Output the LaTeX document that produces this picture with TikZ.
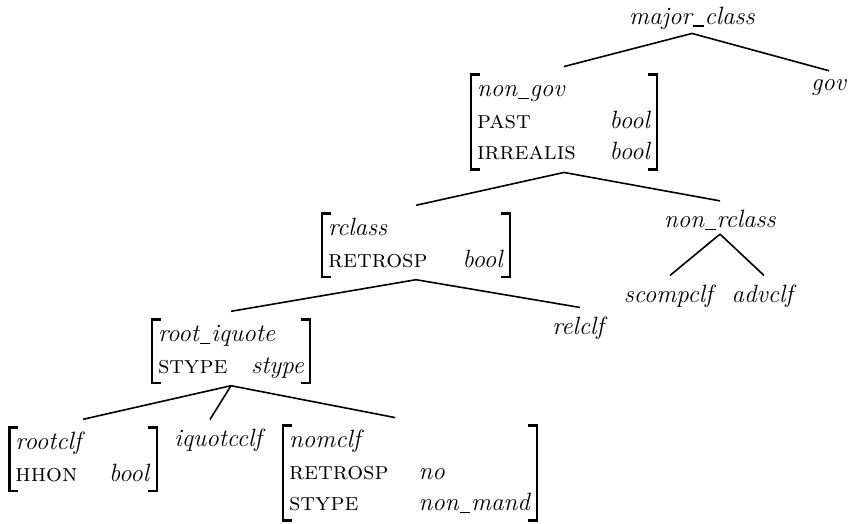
\documentclass[tikz,border=0pt]{standalone}
\usepackage{fontspec}
\usetikzlibrary{calc}
\newcommand{\ty}[1]{\textit{#1}}
\newcommand{\ft}[1]{\textsc{#1}}
\newcommand{\us}{\kern0.04em\rule[-0.1em]{0.42em}{0.055em}\kern0.04em}
\newcommand{\avmtwo}[4]{\begin{tabular*}{#1}{@{\extracolsep{\fill}}lr@{}}\multicolumn{2}{@{}l@{}}{#2}\\ #3 & #4\end{tabular*}}
\tikzset{
  every node/.style={font=\fontsize{25}{31.5}\selectfont, inner sep=0pt},
  lbl/.style={inner sep=1pt},
  avm/.style={inner xsep=6pt, inner ysep=0pt},
  branch/.style={line width=1.6pt},
  brk/.style={line width=2.4pt, line cap=butt}
}
\newcommand{\avmbrackets}[1]{%
  \draw[brk] ([xshift=9pt]#1.north west) -- (#1.north west) -- (#1.south west) -- ([xshift=9pt]#1.south west);
  \draw[brk] ([xshift=-9pt]#1.north east) -- (#1.north east) -- (#1.south east) -- ([xshift=-9pt]#1.south east);
}
\newcommand{\branchto}[3][0pt]{\draw[branch] ([yshift=-3pt]#2.south) -- ([xshift=#1,yshift=8pt]#3.north);}
\begin{document}
\begin{tikzpicture}[x=1pt,y=-1pt]
\useasboundingbox (0,0) rectangle (853,523);
\node[lbl] (major) at (692,18) {\ty{major\us class}};
\node[lbl] (gov) at (829,88) {\ty{gov}};
\node[avm] (nongov) at (564,122) {\begin{tabular*}{174pt}{@{\extracolsep{\fill}}lr@{}}\multicolumn{2}{@{}l@{}}{\ty{non\us gov}}\\ \ft{past} & \ty{bool}\\ \ft{irrealis} & \ty{bool}\end{tabular*}};
\node[avm] (rclass) at (416,245) {\avmtwo{176pt}{\ty{rclass}}{\ft{retrosp}}{\ty{bool}}};
\node[lbl] (nonrclass) at (720,220) {\ty{non\us rclass}};
\node[lbl] (scomp) at (670,296) {\ty{scompclf}};
\node[lbl] (adv) at (764,296) {\ty{advclf}};
\node[avm] (rootiq) at (231,351) {\avmtwo{146pt}{\ty{root\us iquote}}{\ft{stype}}{\ty{stype}}};
\node[lbl] (relclf) at (580,328) {\ty{relclf}};
\node[avm] (rootclf) at (83,459) {\avmtwo{135pt}{\ty{rootclf}}{\ft{hhon}}{\ty{bool}}};
\node[lbl] (iquot) at (220,440) {\ty{iquotcclf}};
\node[avm] (nomclf) at (410,473) {\begin{tabular*}{242pt}{@{\extracolsep{\fill}}ll@{}}\multicolumn{2}{@{}l@{}}{\ty{nomclf}}\\ \ft{retrosp} & \ty{no}\\ \ft{stype} & \ty{non\us mand}\end{tabular*}};
\avmbrackets{nongov}
\avmbrackets{rclass}
\avmbrackets{rootiq}
\avmbrackets{rootclf}
\avmbrackets{nomclf}
\branchto{major}{nongov}
\branchto{major}{gov}
\branchto{nongov}{rclass}
\branchto{nongov}{nonrclass}
\branchto{nonrclass}{scomp}
\branchto{nonrclass}{adv}
\branchto{rclass}{rootiq}
\branchto{rclass}{relclf}
\branchto{rootiq}{rootclf}
\branchto[-10pt]{rootiq}{iquot}
\branchto[-15pt]{rootiq}{nomclf}
\end{tikzpicture}
\end{document}
